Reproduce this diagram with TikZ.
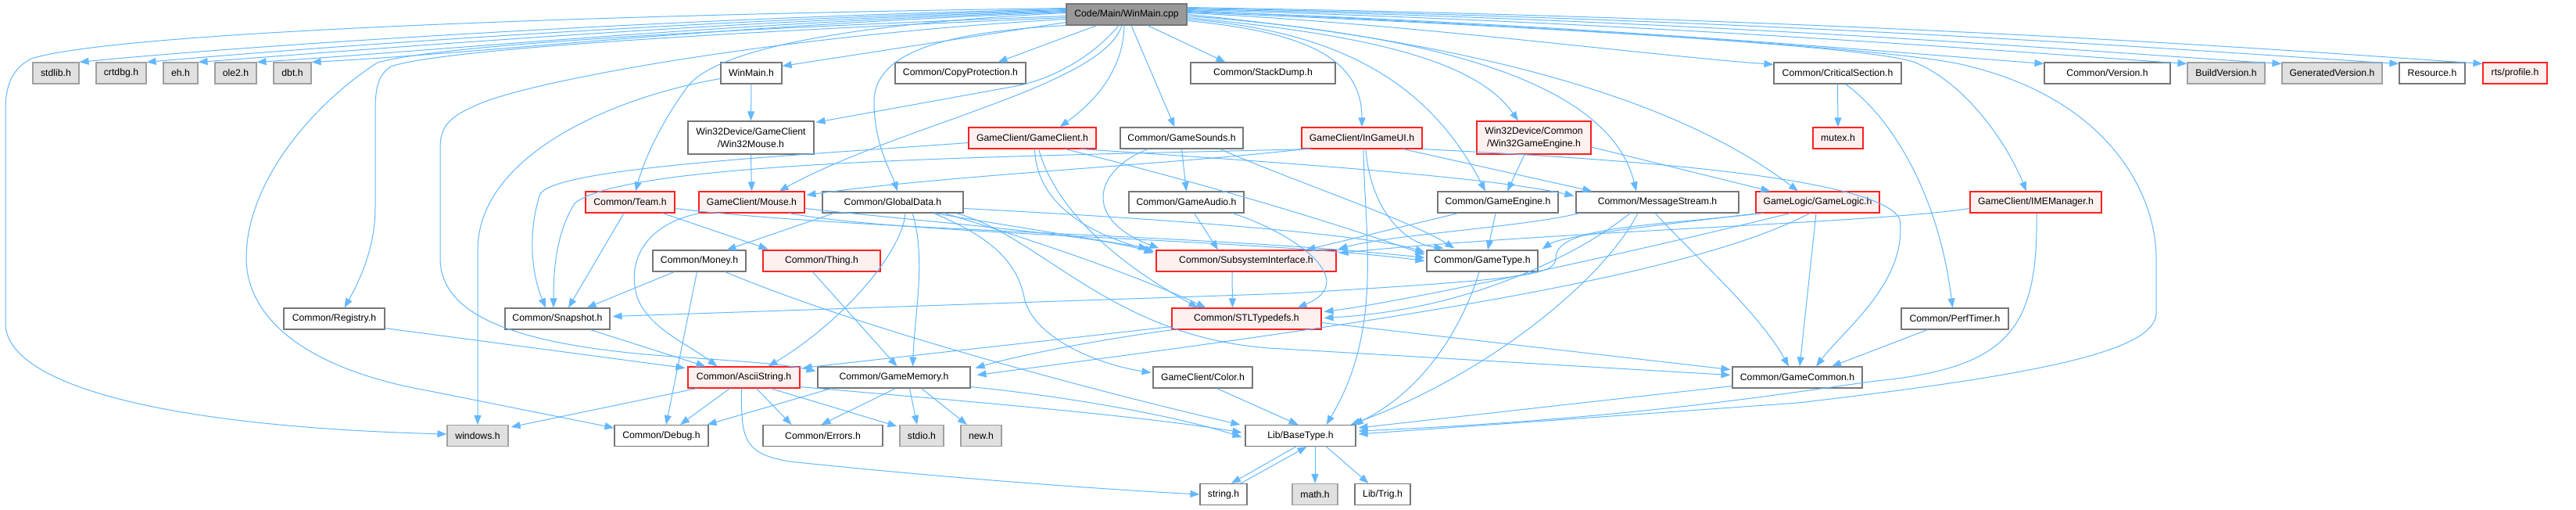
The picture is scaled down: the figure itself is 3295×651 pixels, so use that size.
\documentclass[tikz,border=0pt]{standalone}
\usepackage{fontspec}
\setmainfont{Liberation Sans}
\usetikzlibrary{arrows.meta,calc}
\definecolor{cedge}{HTML}{63B8FF}
\definecolor{cnorm}{HTML}{767676}
\definecolor{cextb}{HTML}{A0A0A0}
\definecolor{cextf}{HTML}{E0E0E0}
\definecolor{credb}{HTML}{FF2020}
\definecolor{credf}{HTML}{FFF0F0}
\definecolor{crootf}{HTML}{999999}
\newcommand{\nodefnt}{\fontsize{12.25}{16}\selectfont}
\begin{document}
\begin{tikzpicture}[x=1pt,y=-1pt,
  nb/.style={draw=cnorm, fill=white, line width=1.1pt, inner sep=0pt, font=\nodefnt, text=black, align=center, minimum height=27pt},
  ext/.style={nb, draw=cextb, fill=cextf},
  hl/.style={nb, draw=credb, fill=credf},
  rootst/.style={nb, fill=crootf},
  e/.style={draw=cedge, line width=1.0pt, -{Triangle[length=12pt,width=9pt]}}]
\fill[white] (0,0) rectangle (3295,651);
\useasboundingbox (0,0) rectangle (3295,651);
% ---------- nodes
\node[rootst, minimum width=154pt] (root) at (1441,18.5) {Code/Main/WinMain.cpp};
\node[ext, minimum width=59pt] (stdlib) at (71.5,93.5) {stdlib.h};
\node[ext, minimum width=64pt] (crtdbg) at (155,93.5) {crtdbg.h};
\node[ext, minimum width=44pt] (eh) at (231,93.5) {eh.h};
\node[ext, minimum width=53pt] (ole) at (301.5,93.5) {ole2.h};
\node[ext, minimum width=48pt] (dbt) at (374,93.5) {dbt.h};
\node[nb, minimum width=78pt] (winmainh) at (961,93.5) {WinMain.h};
\node[nb, minimum width=167pt] (copyprot) at (1228.5,93.5) {Common/CopyProtection.h};
\node[nb, minimum width=185pt] (stackdump) at (1615.5,93.5) {Common/StackDump.h};
\node[nb, minimum width=163pt] (critsec) at (2350.5,93.5) {Common/CriticalSection.h};
\node[nb, minimum width=161pt] (version) at (2695.5,93.5) {Common/Version.h};
\node[ext, minimum width=99pt] (buildver) at (2847.5,93.5) {BuildVersion.h};
\node[ext, minimum width=128pt] (genver) at (2983,93.5) {GeneratedVersion.h};
\node[nb, minimum width=84pt] (resource) at (3111,93.5) {Resource.h};
\node[hl, minimum width=82pt] (profile) at (3217,93.5) {rts/profile.h};
\node[nb, minimum width=161pt, minimum height=42pt] (wmouse) at (960.5,176) {Win32Device/GameClient\\/Win32Mouse.h};
\node[hl, minimum width=163pt] (gclient) at (1320.5,176.5) {GameClient/GameClient.h};
\node[nb, minimum width=157pt] (gsounds) at (1511.5,176.5) {Common/GameSounds.h};
\node[hl, minimum width=154pt] (ingameui) at (1742,176.5) {GameClient/InGameUI.h};
\node[hl, minimum width=146pt, minimum height=42pt] (wge) at (1962,176) {Win32Device/Common\\/Win32GameEngine.h};
\node[hl, minimum width=64pt] (mutex) at (2351,176.5) {mutex.h};
\node[hl, minimum width=114pt] (team) at (806,258.5) {Common/Team.h};
\node[hl, minimum width=135pt] (mouse) at (961.5,258.5) {GameClient/Mouse.h};
\node[nb, minimum width=180pt] (gdata) at (1142,258.5) {Common/GlobalData.h};
\node[nb, minimum width=147pt] (gaudio) at (1517.5,258.5) {Common/GameAudio.h};
\node[nb, minimum width=154pt] (gengine) at (1916,258.5) {Common/GameEngine.h};
\node[nb, minimum width=208pt] (msgs) at (2120,258.5) {Common/MessageStream.h};
\node[hl, minimum width=158pt] (glogic) at (2325,258.5) {GameLogic/GameLogic.h};
\node[hl, minimum width=168pt] (ime) at (2604,258.5) {GameClient/IMEManager.h};
\node[nb, minimum width=119pt] (money) at (894.5,333.5) {Common/Money.h};
\node[hl, minimum width=150pt] (thing) at (1051,333.5) {Common/Thing.h};
\node[hl, minimum width=230pt] (subsys) at (1594,333.5) {Common/SubsystemInterface.h};
\node[nb, minimum width=142pt] (gtype) at (1896,333.5) {Common/GameType.h};
\node[nb, minimum width=129pt] (registry) at (427.5,407.5) {Common/Registry.h};
\node[nb, minimum width=134pt] (snapshot) at (713,407.5) {Common/Snapshot.h};
\node[hl, minimum width=191pt] (stl) at (1594.5,407.5) {Common/STLTypedefs.h};
\node[nb, minimum width=137pt] (perf) at (2500.5,407.5) {Common/PerfTimer.h};
\node[hl, minimum width=143pt] (ascii) at (951.5,482.5) {Common/AsciiString.h};
\node[nb, minimum width=195pt] (gmem) at (1143.5,482.5) {Common/GameMemory.h};
\node[nb, minimum width=127pt] (color) at (1538.5,482.5) {GameClient/Color.h};
\node[nb, minimum width=166pt] (gcommon) at (2299,482.5) {Common/GameCommon.h};
\node[ext, minimum width=78pt] (windows) at (611,557) {windows.h};
\node[nb, minimum width=120pt] (debug) at (846,557) {Common/Debug.h};
\node[nb, minimum width=153pt] (errors) at (1052.5,557) {Common/Errors.h};
\node[ext, minimum width=56pt] (stdio) at (1179,557) {stdio.h};
\node[ext, minimum width=52pt] (newh) at (1255,557) {new.h};
\node[nb, minimum width=141pt] (basetype) at (1663.5,557) {Lib/BaseType.h};
\node[nb, minimum width=60pt] (stringh) at (1565,632) {string.h};
\node[ext, minimum width=58pt] (mathh) at (1682,632) {math.h};
\node[nb, minimum width=71pt] (trig) at (1768.5,632) {Lib/Trig.h};
% ---------- root edges, left side
\draw[e] ($(root.west)+(0,-8)$) .. controls (800,18) and (150,40) .. (40,75) .. controls (15,88) and (7,110) .. (7,140) -- (7,415) .. controls (10,490) and (200,545) .. ($(windows.west)+(0,-2)$);
\draw[e] ($(root.west)+(0,-7)$) .. controls (900,22) and (350,55) .. (stdlib.north east);
\draw[e] ($(root.west)+(0,-6)$) .. controls (900,25) and (430,58) .. (crtdbg.north east);
\draw[e] ($(root.west)+(0,-5)$) .. controls (900,28) and (500,61) .. (eh.north east);
\draw[e] ($(root.west)+(0,-4)$) .. controls (900,31) and (570,64) .. (ole.north east);
\draw[e] ($(root.west)+(0,-3)$) .. controls (900,34) and (630,67) .. (dbt.north east);
\draw[e] ($(root.west)+(0,2)$) .. controls (900,38) and (560,58) .. (483,80) .. controls (400,133) and (315,233) .. (315,330) .. controls (315,400) and (380,470) .. (550,500) -- ($(debug.west)+(0,-10)$);
\draw[e] ($(root.west)+(0,4)$) .. controls (900,42) and (560,64) .. (500,85) .. controls (485,95) and (480,110) .. (480,140) -- (480,265) .. controls (480,310) and (465,350) .. ($(registry.north)+(13,0)$);
\draw[e] ($(root.west)+(0,6)$) .. controls (1000,45) and (700,100) .. (620,130) .. controls (575,148) and (563,160) .. (563,190) -- (563,330) .. controls (563,400) and (650,440) .. (850,455) .. controls (950,462) and (1000,465) .. ($(gmem.west)+(-2,-8)$);
\draw[e] ($(root.west)+(0,-2)$) .. controls (1100,30) and (920,60) .. (880,110) .. controls (850,150) and (825,200) .. ($(team.north)+(7,0)$);
\draw[e] ($(root.west)+(0,10)$) -- ($(winmainh.east)+(0,-9)$);
% ---------- root edges, bottom
\draw[e] (root.south west) .. controls (1230,40) and (1118,60) .. (1118,130) .. controls (1118,185) and (1140,220) .. ($(gdata.north)+(6,0)$);
\draw[e] ($(root.south)+(-38,0)$) -- ($(copyprot.north)+(48,0)$);
\draw[e] ($(root.south)+(-10,0)$) .. controls (1400,70) and (1350,100) .. (1300,110) -- ($(wmouse.north east)+(2,2)$);
\draw[e] ($(root.south)+(-6,0)$) .. controls (1410,110) and (1150,160) .. ($(mouse.north)+(35,0)$);
\draw[e] ($(root.south)+(-3,0)$) .. controls (1437,90) and (1400,130) .. ($(gclient.north)+(35,0)$);
\draw[e] ($(root.south)+(6,0)$) -- ($(gsounds.north)+(-9,0)$);
\draw[e] ($(root.south)+(27,0)$) -- ($(stackdump.north)+(-48,0)$);
% ---------- root edges, right side
\draw[e] ($(root.east)+(0,8)$) .. controls (1660,40) and (1742,70) .. (ingameui.north);
\draw[e] ($(root.east)+(0,6)$) .. controls (1720,40) and (1830,110) .. ($(gengine.north)+(-16,0)$);
\draw[e] ($(root.east)+(0,4)$) .. controls (1760,45) and (1890,80) .. ($(wge.north)+(-20,0)$);
\draw[e] ($(root.east)+(0,2)$) .. controls (1850,45) and (2060,110) .. ($(msgs.north)+(-27,0)$);
\draw[e] (root.east) .. controls (1900,55) and (2150,130) .. ($(glogic.north)+(-25,0)$);
\draw[e] ($(root.east)+(0,-2)$) .. controls (1800,30) and (2100,70) .. ($(critsec.north west)+(0,3)$);
\draw[e] ($(root.east)+(0,-3)$) .. controls (2000,35) and (2400,60) .. (2450,80) .. controls (2520,110) and (2570,190) .. ($(ime.north)+(-12,0)$);
\draw[e] ($(root.east)+(0,-4)$) .. controls (2000,30) and (2400,65) .. ($(version.north west)+(0,2)$);
\draw[e] ($(root.east)+(0,-6)$) .. controls (2100,28) and (2600,68) .. ($(buildver.north west)+(0,2)$);
\draw[e] ($(root.east)+(0,-7)$) .. controls (2200,26) and (2700,68) .. ($(genver.north west)+(0,2)$);
\draw[e] ($(root.east)+(0,-8)$) .. controls (2300,25) and (2850,68) .. ($(resource.north west)+(0,2)$);
\draw[e] ($(root.east)+(0,-9)$) .. controls (2400,24) and (2950,66) .. ($(profile.north west)+(0,2)$);
\draw[e] ($(root.east)+(0,-5)$) .. controls (2100,40) and (2450,65) .. (2520,85) .. controls (2700,130) and (2758,250) .. (2758,330) -- (2758,400) .. controls (2758,450) and (2600,480) .. (2300,515) -- ($(basetype.east)+(3,-2)$);
% ---------- second level
\draw[e] ($(winmainh.west)+(0,7)$) .. controls (780,125) and (611,200) .. (611,320) -- (windows.north);
\draw[e] (winmainh.south) -- (wmouse.north);
\draw[e] (wmouse.south) -- (mouse.north);
\draw[e] (critsec.south) -- (mutex.north);
\draw[e] ($(critsec.south)+(10,0)$) .. controls (2420,150) and (2480,250) .. ($(perf.north)+(-3,0)$);
\draw[e] ($(perf.south)+(-35,0)$) -- ($(gcommon.north)+(44,0)$);
\draw[e] (gsounds.south) -- (gaudio.north);
\draw[e] ($(gsounds.south)+(-43,0)$) .. controls (1400,217) and (1383,280) .. ($(subsys.north west)+(4,-2)$);
\draw[e] ($(gsounds.south east)+(-30,0)$) .. controls (1650,230) and (1800,280) .. ($(gtype.north west)+(36,-2)$);
\draw[e] ($(wge.south)+(-12,0)$) -- ($(gengine.north)+(12,0)$);
\draw[e] ($(wge.east)+(0,12)$) -- ($(glogic.north west)+(19,0)$);
\draw[e] ($(gengine.south)+(-3,0)$) -- ($(gtype.north)+(7,0)$);
\draw[e] ($(gengine.south west)+(27,0)$) -- ($(subsys.north east)+(-39,0)$);
\draw[e] ($(gaudio.south)+(10,0)$) -- ($(subsys.north)+(-36,0)$);
\draw[e] ($(gaudio.south east)+(-15,0)$) .. controls (1660,300) and (1740,360) .. ($(stl.north)+(65,0)$);
% GameClient
\draw[e] ($(gclient.west)+(0,6)$) .. controls (1000,200) and (700,215) .. (690,250) .. controls (675,300) and (680,350) .. ($(snapshot.north)+(-15,0)$);
\draw[e] ($(gclient.south east)+(-20,0)$) .. controls (1600,205) and (1900,225) .. ($(msgs.west)+(-2,-8)$);
\draw[e] ($(gclient.south)+(3,0)$) .. controls (1325,240) and (1360,290) .. ($(subsys.north west)+(-2,2)$);
\draw[e] ($(gclient.south)+(8,0)$) .. controls (1345,250) and (1400,320) .. ($(stl.north west)+(34,0)$);
\draw[e] ($(gclient.south east)+(-40,0)$) .. controls (1600,250) and (1750,300) .. ($(gtype.west)+(-2,-8)$);
% InGameUI
\draw[e] ($(ingameui.south west)+(12,0)$) .. controls (1300,200) and (800,205) .. (735,260) .. controls (710,300) and (708,350) .. ($(snapshot.north)+(-5,0)$);
\draw[e] ($(ingameui.south west)+(4,0)$) .. controls (1500,210) and (1200,225) .. ($(mouse.east)+(2,-9)$);
\draw[e] ($(ingameui.south east)+(-25,0)$) -- ($(msgs.north west)+(21,0)$);
\draw[e] (ingameui.south east) .. controls (2000,200) and (2400,220) .. (2430,280) .. controls (2440,360) and (2360,420) .. ($(gcommon.north)+(24,0)$);
\draw[e] ($(ingameui.south)+(5,0)$) .. controls (1752,260) and (1790,310) .. ($(gtype.north west)+(22,-2)$);
\draw[e] ($(ingameui.south)+(2,0)$) .. controls (1745,300) and (1770,420) .. ($(basetype.north)+(33,0)$);
% GameLogic / MessageStream / IME
\draw[e] ($(glogic.south)+(-2,0)$) -- ($(gcommon.north)+(3,0)$);
\draw[e] ($(glogic.south west)+(10,0)$) .. controls (2100,290) and (1990,290) .. (1990,330) .. controls (1990,352) and (1950,357) .. (1650,375) -- ($(snapshot.east)+(3,-3)$);
\draw[e] ($(glogic.south)+(-35,0)$) .. controls (2100,320) and (1800,385) .. ($(stl.east)+(3,-9)$);
\draw[e] ($(glogic.south)+(-10,0)$) .. controls (2150,360) and (1700,420) .. ($(gmem.east)+(8,-3)$);
\draw[e] ($(glogic.south west)+(4,0)$) .. controls (2150,285) and (2000,300) .. ($(gtype.north east)+(5,-1)$);
\draw[e] ($(msgs.south)+(-3,0)$) .. controls (2170,330) and (2250,400) .. ($(gcommon.north)+(-11,0)$);
\draw[e] ($(msgs.south)+(-25,0)$) .. controls (2050,360) and (1900,480) .. ($(basetype.north east)+(-7,0)$);
\draw[e] ($(msgs.south)+(-35,0)$) .. controls (2040,310) and (1900,395) .. ($(stl.east)+(3,-1)$);
\draw[e] ($(msgs.south west)+(5,0)$) .. controls (1950,290) and (1780,300) .. ($(subsys.north east)+(2,-1)$);
\draw[e] ($(ime.west)+(0,8)$) .. controls (2400,285) and (2000,295) .. ($(subsys.east)+(3,-10)$);
\draw[e] ($(ime.south)+(1,0)$) .. controls (2607,420) and (2570,470) .. (2400,487) .. controls (2300,500) and (2100,535) .. ($(basetype.east)+(3,-6)$);
% Team / Mouse / GlobalData
\draw[e] ($(team.south)+(-8,0)$) -- ($(snapshot.north)+(14,0)$);
\draw[e] ($(team.south east)+(-16,0)$) -- ($(thing.north west)+(7,-1)$);
\draw[e] ($(team.east)+(0,8)$) .. controls (1100,295) and (1550,300) .. ($(gtype.west)+(-2,-4)$);
\draw[e] ($(mouse.south west)+(2,0)$) .. controls (830,285) and (800,330) .. (815,380) .. controls (830,420) and (880,440) .. ($(ascii.north)+(-34,0)$);
\draw[e] ($(mouse.east)+(0,8)$) .. controls (1200,285) and (1400,300) .. ($(subsys.north west)+(-3,4)$);
\draw[e] ($(mouse.south east)+(-20,0)$) .. controls (1150,300) and (1600,305) .. ($(gtype.west)+(-2,0)$);
\draw[e] ($(gdata.south west)+(15,0)$) -- ($(money.north east)+(-25,0)$);
\draw[e] ($(gdata.south)+(16,0)$) .. controls (1155,320) and (1080,410) .. ($(ascii.north east)+(-41,0)$);
\draw[e] ($(gdata.south)+(25,0)$) .. controls (1185,330) and (1170,400) .. ($(gmem.north)+(24,0)$);
\draw[e] ($(gdata.south)+(52,0)$) .. controls (1260,300) and (1300,330) .. (1310,380) .. controls (1320,430) and (1400,465) .. ($(color.west)+(-2,-6)$);
\draw[e] ($(gdata.south east)+(-38,0)$) -- ($(subsys.north west)+(-10,-2)$);
\draw[e] ($(gdata.south east)+(-25,0)$) .. controls (1300,300) and (1450,350) .. ($(stl.north west)+(44,0)$);
\draw[e] ($(gdata.east)+(0,8)$) .. controls (1500,280) and (1750,300) .. ($(gtype.north west)+(-2,3)$);
\draw[e] ($(gdata.south east)+(-10,0)$) .. controls (1330,300) and (1420,430) .. (1623,445) -- ($(gcommon.west)+(-2,-3)$);
% Money / Thing / Registry / Snapshot
\draw[e] ($(money.south)+(-32,0)$) -- ($(snapshot.north east)+(-30,0)$);
\draw[e] ($(money.south)+(-3,0)$) -- ($(debug.north)+(6,0)$);
\draw[e] ($(money.south east)+(-27,0)$) .. controls (1100,420) and (1400,500) .. ($(basetype.west)+(-6,-14)$);
\draw[e] ($(thing.south west)+(64,0)$) -- ($(gmem.north)+(4,0)$);
\draw[e] ($(registry.south east)+(0,-2)$) -- ($(ascii.west)+(-3,-12)$);
\draw[e] ($(snapshot.south)+(42,0)$) -- ($(ascii.north west)+(23,0)$);
% STL / SubsystemInterface / GameType
\draw[e] ($(subsys.south)+(-18,0)$) -- ($(stl.north)+(-18,0)$);
\draw[e] ($(stl.south west)+(0,-4)$) .. controls (1300,440) and (1100,462) .. ($(ascii.north east)+(3,2)$);
\draw[e] ($(stl.south west)+(2,0)$) .. controls (1400,435) and (1300,455) .. ($(gmem.east)+(6,-12)$);
\draw[e] ($(stl.east)+(0,5)$) -- ($(gcommon.west)+(-2,-10)$);
\draw[e] ($(gtype.south)+(-4,0)$) .. controls (1870,420) and (1820,500) .. ($(basetype.north east)+(-3,0)$);
% AsciiString
\draw[e] ($(ascii.south west)+(12,0)$) -- ($(windows.north east)+(3,3)$);
\draw[e] ($(ascii.south)+(-18,0)$) -- ($(debug.north)+(24,0)$);
\draw[e] ($(ascii.south)+(16,0)$) -- ($(errors.north)+(-40,0)$);
\draw[e] ($(ascii.south)+(34,0)$) -- ($(stdio.west)+(-3,-12)$);
\draw[e] ($(ascii.south)+(-3,0)$) .. controls (948,560) and (950,580) .. (1010,590) .. controls (1200,610) and (1400,625) .. (stringh.west);
\draw[e] ($(ascii.south east)+(0,-2)$) .. controls (1200,510) and (1450,530) .. ($(basetype.west)+(-4,-4)$);
% GameMemory
\draw[e] ($(gmem.south west)+(18,0)$) -- ($(debug.north east)+(-2,0)$);
\draw[e] ($(gmem.south)+(2,0)$) -- ($(errors.north)+(-2,0)$);
\draw[e] ($(gmem.south)+(20,0)$) -- ($(stdio.north)+(-6,0)$);
\draw[e] ($(gmem.south)+(35,0)$) -- ($(newh.north)+(-18,0)$);
\draw[e] ($(gmem.south east)+(0,-2)$) .. controls (1350,505) and (1500,530) .. ($(basetype.west)+(-4,2)$);
% Color / GameCommon / BaseType
\draw[e] ($(color.south)+(18,0)$) -- ($(basetype.north)+(-3,0)$);
\draw[e] ($(gcommon.south west)+(0,-3)$) -- ($(basetype.east)+(3,-10)$);
\draw[e] ($(basetype.south)+(18.5,0)$) -- (mathh.north);
\draw[e] ($(basetype.south)+(33,0)$) -- ($(trig.north)+(-18,0)$);
\draw[e] ($(basetype.south)+(-6,0)$) -- ($(stringh.north)+(10,0)$);
\draw[e] ($(stringh.north)+(22,0)$) -- ($(basetype.south)+(8,0)$);
\end{tikzpicture}
\end{document}
